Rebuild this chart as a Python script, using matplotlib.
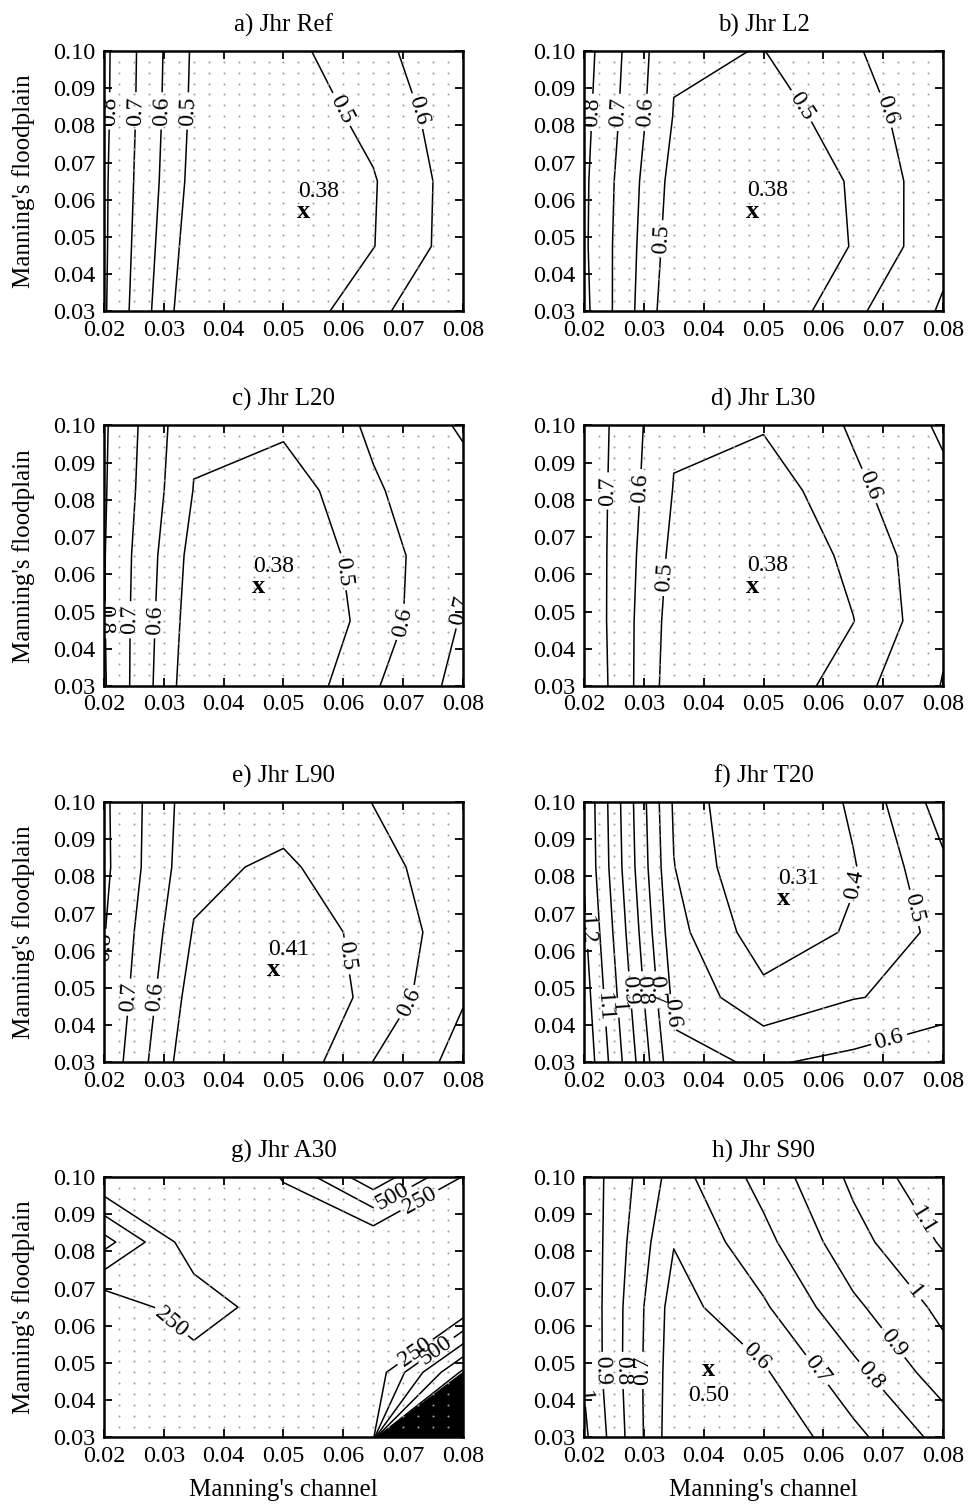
import numpy as np
import matplotlib
matplotlib.use('Agg')
import matplotlib.pyplot as plt

plt.rcParams['font.family'] = ['Liberation Serif', 'DejaVu Serif']

# Manning's values of the model runs
n_channel = [0.02, 0.035, 0.05, 0.065, 0.08]
n_floodplain = [0.03, 0.0475, 0.065, 0.0825, 0.10]

# Jhr on the run grid, one row per floodplain value (lowest first)
jhr_ref = [[0.812, 0.412, 0.415, 0.580, 0.680],
           [0.815, 0.440, 0.405, 0.497, 0.656],
           [0.816, 0.465, 0.405, 0.4925, 0.654],
           [0.821, 0.477, 0.440, 0.528, 0.666],
           [0.823, 0.484, 0.470, 0.566, 0.690]]
jhr_l2 = [[0.827, 0.425, 0.406, 0.580, 0.712],
          [0.817, 0.448, 0.405, 0.505, 0.674],
          [0.819, 0.465, 0.405, 0.511, 0.669],
          [0.829, 0.496, 0.450, 0.550, 0.675],
          [0.840, 0.510, 0.498, 0.598, 0.616]]
jhr_l20 = [[0.810, 0.426, 0.411, 0.589, 0.735],
           [0.805, 0.445, 0.370, 0.545, 0.709],
           [0.805, 0.463, 0.405, 0.552, 0.683],
           [0.810, 0.497, 0.440, 0.590, 0.665],
           [0.814, 0.514, 0.520, 0.6145, 0.712]]
jhr_l30 = [[0.793, 0.444, 0.410, 0.563, 0.7047],
           [0.782, 0.456, 0.405, 0.4976, 0.683],
           [0.777, 0.474, 0.405, 0.526, 0.678],
           [0.773, 0.496, 0.438, 0.580, 0.6785],
           [0.7735, 0.511, 0.510, 0.611, 0.714]]
jhr_l90 = [[0.776, 0.419, 0.419, 0.602, 0.736],
           [0.795, 0.455, 0.400, 0.529, 0.693],
           [0.805, 0.493, 0.420, 0.540, 0.6485],
           [0.822, 0.528, 0.479, 0.585, 0.626],
           [0.8185, 0.541, 0.552, 0.601, 0.680]]
jhr_t20 = [[1.278, 0.626, 0.589, 0.626, 0.705],
           [1.250, 0.576, 0.430, 0.496, 0.526],
           [1.220, 0.535, 0.343, 0.4114, 0.530],
           [1.190, 0.503, 0.289, 0.3924, 0.582],
           [1.184, 0.487, 0.265, 0.418, 0.645]]
jhr_a30 = [[20, 30, 40, 50, 30000],
           [30, 86, 40, 70, 1300],
           [36, 420, 75, 30, 40],
           [850, 89, 144, 25, 150],
           [0, 50, 260, 925, 240]]
jhr_s90 = [[1.023, 0.535, 0.51, 0.671, 0.834],
           [0.990, 0.546, 0.587, 0.770, 0.955],
           [0.986, 0.557, 0.686, 0.880, 1.025],
           [0.978, 0.605, 0.770, 0.965, 1.111],
           [0.968, 0.659, 0.836, 1.021, 1.186]]

titles = ['a) Jhr Ref', 'b) Jhr L2', 'c) Jhr L20', 'd) Jhr L30',
          'e) Jhr L90', 'f) Jhr T20', 'g) Jhr A30', 'h) Jhr S90']
grids = [jhr_ref, jhr_l2, jhr_l20, jhr_l30, jhr_l90, jhr_t20, jhr_a30, jhr_s90]

lev_jhr = [0.5, 0.6, 0.7, 0.8, 0.9, 1.0]
lev_t20 = [0.4, 0.5, 0.6, 0.7, 0.8, 0.9, 1.0, 1.1, 1.2]
lev_a30 = list(np.arange(250, 30000, 250))
lev_s90 = [0.5, 0.6, 0.7, 0.8, 0.9, 1.0, 1.1]
levels = [lev_jhr, lev_jhr, lev_jhr, lev_jhr, lev_jhr, lev_t20, lev_a30, lev_s90]

# best run (x marker) and its Jhr
opt_channel = [0.0533, 0.0482, 0.0459, 0.0482, 0.0483, 0.0533, None, 0.0408]
opt_floodplain = [0.057, 0.0571, 0.0568, 0.057, 0.0551, 0.0741, None, 0.0485]
opt_jhr = ['0.38', '0.38', '0.38', '0.38', '0.41', '0.31', None, '0.50']

# where the contour labels sit
label_pos = [
    [(0.021, 0.0839), (0.0252, 0.0839), (0.0296, 0.0839), (0.0335, 0.0839),
     (0.0597, 0.0843), (0.0733, 0.0843)],
    [(0.0213, 0.0835), (0.0257, 0.0835), (0.0302, 0.0835), (0.0333, 0.0495),
     (0.0564, 0.0853), (0.0709, 0.0844)],
    [(0.0205, 0.0478), (0.0243, 0.0478), (0.0285, 0.0478), (0.0605, 0.0608),
     (0.0703, 0.0469), (0.0791, 0.0505)],
    [(0.0241, 0.0824), (0.0294, 0.0833), (0.0332, 0.0592), (0.0683, 0.0842)],
    [(0.0205, 0.0609), (0.0246, 0.0475), (0.0288, 0.0475), (0.0605, 0.0586),
     (0.0714, 0.0457)],
    [(0.0651, 0.0777), (0.0751, 0.0715), (0.0706, 0.0385), (0.0356, 0.0435),
     (0.0321, 0.0495), (0.0300, 0.0495), (0.0278, 0.0495), (0.0256, 0.0447),
     (0.0233, 0.0447), (0.0203, 0.0655)],
    [(0.0315, 0.0615), (0.0683, 0.0945), (0.0728, 0.0935), (0.072, 0.053),
     (0.0755, 0.0535)],
    [(0.023, 0.048), (0.0263, 0.048), (0.0299, 0.048), (0.0204, 0.041),
     (0.0483, 0.0508), (0.0588, 0.048), (0.0678, 0.0463), (0.0722, 0.0561),
     (0.075, 0.0687), (0.0761, 0.0875)],
]

fig = plt.figure(figsize=(9.69, 15.12), dpi=100)
lefts = [0.1073, 0.6027]
bottoms = [0.7940, 0.5463, 0.2973, 0.0493]

dots_x, dots_y = np.meshgrid(np.linspace(0.02, 0.08, 25)[1:-1],
                             np.linspace(0.03, 0.10, 25)[1:-1])

for k in range(8):
    ax = fig.add_axes([lefts[k % 2], bottoms[k // 2], 0.3705, 0.1723])
    z = np.array(grids[k], dtype=float)
    cs = ax.contour(n_channel, n_floodplain, z, levels=levels[k],
                    colors='k', linewidths=1.1)
    lab_levels = [250, 500] if k == 6 else None
    cs.clabel(levels=lab_levels, manual=label_pos[k], inline=True,
              inline_spacing=4, fmt='%g', fontsize=17)
    ax.scatter(dots_x.ravel(), dots_y.ravel(), s=2.2, color='#a0a0a0',
               linewidths=0, zorder=2.5)

    if opt_jhr[k] is not None:
        xo, yo = opt_channel[k], opt_floodplain[k]
        ax.text(xo, yo - 0.0019, 'x', ha='center', va='baseline', fontsize=19,
                fontweight='bold', zorder=4)
        if k == 7:
            ax.text(xo - 0.0034, yo - 0.0088, opt_jhr[k], fontsize=17, zorder=4)
        else:
            ax.text(xo - 0.0009, yo + 0.0038, opt_jhr[k], fontsize=17, zorder=4)

    ax.set_xlim(0.02, 0.08)
    ax.set_ylim(0.03, 0.10)
    ax.set_xticks([0.02, 0.03, 0.04, 0.05, 0.06, 0.07, 0.08])
    ax.set_xticklabels(['%.2f' % v for v in ax.get_xticks()])
    ax.set_yticks([0.03, 0.04, 0.05, 0.06, 0.07, 0.08, 0.09, 0.10])
    ax.set_yticklabels(['%.2f' % v for v in ax.get_yticks()])
    ax.tick_params(direction='in', top=True, right=True, length=6, width=1.3,
                   labelsize=17.5, pad=6)
    for sp in ax.spines.values():
        sp.set_linewidth(1.8)
    ax.set_title(titles[k], fontsize=18, pad=14)
    if k % 2 == 0:
        ax.set_ylabel("Manning's floodplain", fontsize=18, labelpad=13)
    if k >= 6:
        ax.set_xlabel("Manning's channel", fontsize=18, labelpad=9)

fig.savefig('out.png', dpi=100, facecolor='white')
